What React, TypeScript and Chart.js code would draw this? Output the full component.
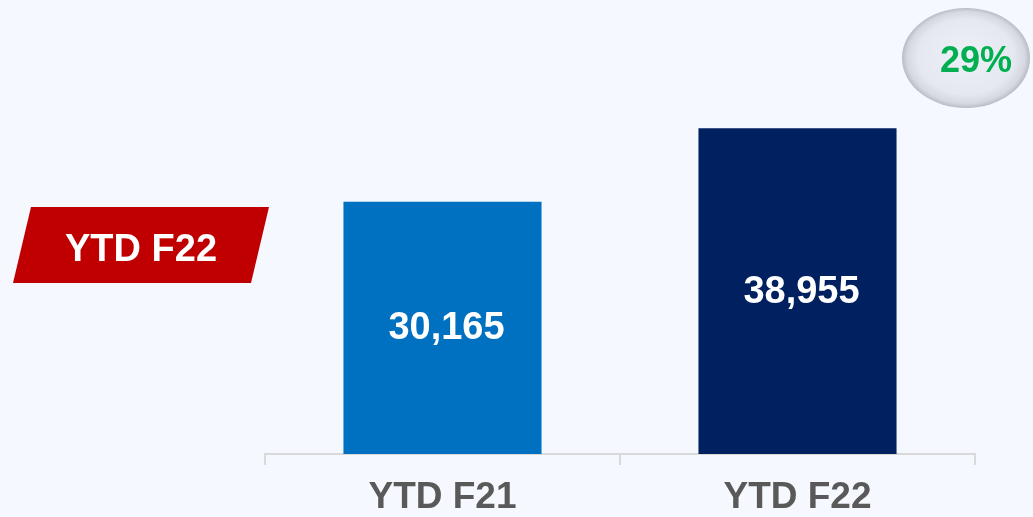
import React, { useEffect, useRef } from "react";
import { Chart, registerables } from "chart.js";

Chart.register(...registerables);

const categories = ["YTD F21", "YTD F22"];
const values = [30165, 38955];
const barColors = ["#0070C0", "#002060"];
const badgeLabel = "YTD F22";
const growthLabel = "29%";

const FONT = "'Liberation Sans', Arial, sans-serif";

const overlayPlugin = {
  id: "overlay",
  afterDatasetsDraw(chart: any) {
    const ctx = chart.ctx as CanvasRenderingContext2D;
    const meta = chart.getDatasetMeta(0);
    ctx.save();
    ctx.fillStyle = "#FFFFFF";
    ctx.font = `bold 38px ${FONT}`;
    ctx.textAlign = "center";
    ctx.textBaseline = "middle";
    meta.data.forEach((bar: any, i: number) => {
      const v = values[i];
      const txt = v.toLocaleString("en-US");
      ctx.fillText(txt, bar.x + 4, (bar.y + bar.base) / 2 + 1);
    });
    ctx.restore();
  },
  afterDraw(chart: any) {
    const ctx = chart.ctx as CanvasRenderingContext2D;
    // red parallelogram badge
    ctx.save();
    ctx.fillStyle = "#C00000";
    ctx.beginPath();
    ctx.moveTo(31, 207);
    ctx.lineTo(269, 207);
    ctx.lineTo(251, 283);
    ctx.lineTo(13, 283);
    ctx.closePath();
    ctx.fill();
    ctx.fillStyle = "#FFFFFF";
    ctx.font = `bold 38px ${FONT}`;
    ctx.textAlign = "center";
    ctx.textBaseline = "alphabetic";
    ctx.fillText(badgeLabel, 141, 261);
    ctx.restore();

    // oval
    const cx = 966, cy = 58, rx = 64, ry = 50;
    ctx.save();
    ctx.translate(cx, cy);
    ctx.scale(1, ry / rx);
    const g = ctx.createRadialGradient(0, -6, 0, 0, 0, rx);
    g.addColorStop(0, "#EEF0F8");
    g.addColorStop(0.75, "#E6E8F1");
    g.addColorStop(0.92, "#D6D8E1");
    g.addColorStop(1, "#B9BBC5");
    ctx.fillStyle = g;
    ctx.beginPath();
    ctx.arc(0, 0, rx, 0, Math.PI * 2);
    ctx.fill();
    ctx.restore();
    ctx.save();
    ctx.fillStyle = "#00B050";
    ctx.font = `bold 36px ${FONT}`;
    ctx.textAlign = "center";
    ctx.textBaseline = "alphabetic";
    ctx.fillText(growthLabel, 976, 72);
    ctx.restore();
  },
};

export default function App() {
  const ref = useRef<HTMLCanvasElement | null>(null);
  useEffect(() => {
    if (!ref.current) return;
    const chart = new Chart(ref.current, {
      type: "bar",
      data: {
        labels: categories,
        datasets: [
          {
            data: values,
            backgroundColor: barColors,
            borderWidth: 0,
            categoryPercentage: 1,
            barPercentage: 0.558,
          },
        ],
      },
      options: {
        animation: false,
        responsive: false,
        maintainAspectRatio: false,
        layout: { padding: { left: 265, right: 58, top: 36, bottom: -13 } },
        plugins: { legend: { display: false }, tooltip: { enabled: false } },
        scales: {
          x: {
            grid: {
              display: true,
              drawOnChartArea: false,
              drawTicks: true,
              tickLength: 11,
              color: "#D9D9D9",
              lineWidth: 2,
            },
            border: { display: true, color: "#D9D9D9", width: 2 },
            ticks: {
              color: "#595959",
              font: { family: FONT, size: 37, weight: "bold", lineHeight: 1 },
              padding: 14,
            },
          },
          y: { display: false, min: 0, max: 50000 },
        },
      },
      plugins: [overlayPlugin],
    });
    return () => chart.destroy();
  }, []);
  return (
    <div style={{ position: "absolute", left: 0, top: 0, width: 1033, height: 517, background: "#F5F8FE" }}>
      <canvas ref={ref} width={1033} height={517} style={{ display: "block" }} />
    </div>
  );
}
